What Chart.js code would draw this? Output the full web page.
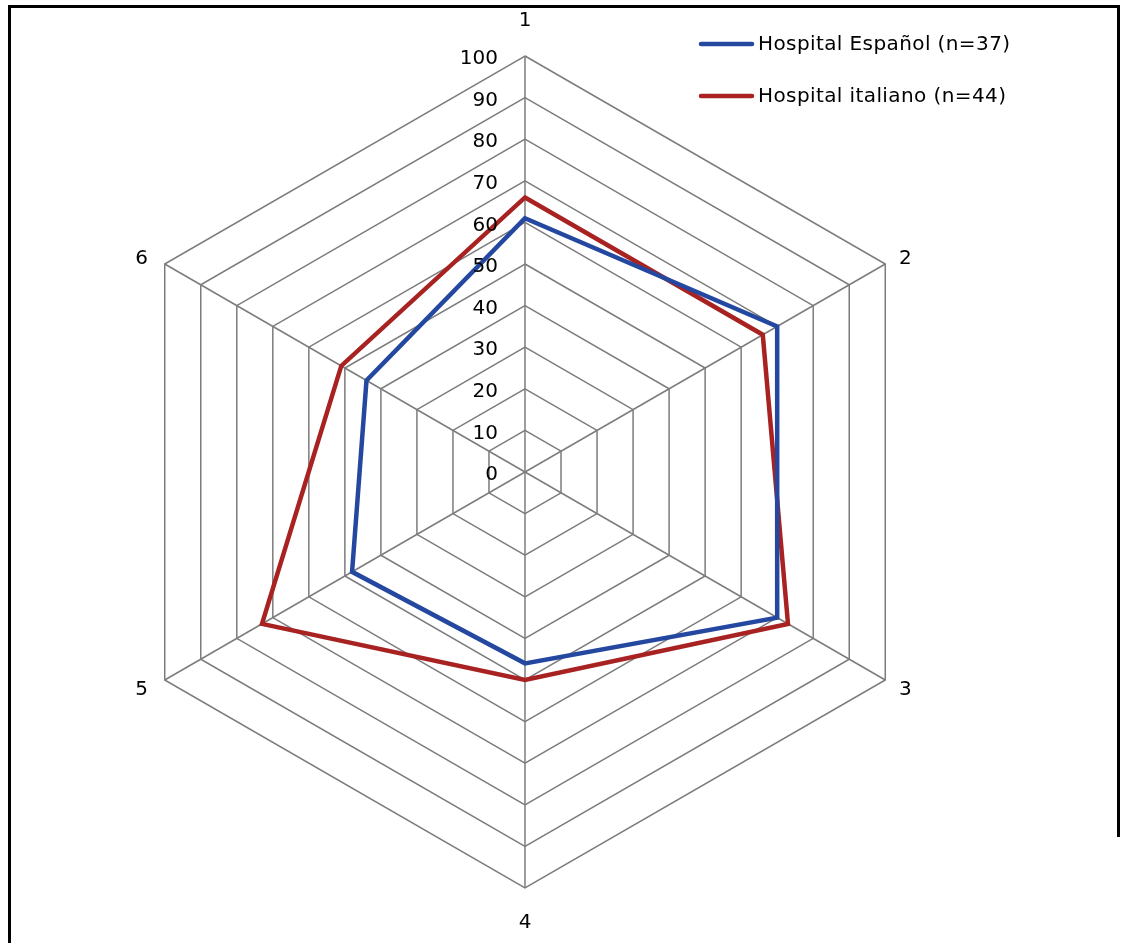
<!DOCTYPE html>
<html>
<head>
<meta charset="utf-8">
<script src="https://cdn.jsdelivr.net/npm/chart.js@4.4.1/dist/chart.umd.min.js"></script>
<style>
  html, body { margin: 0; padding: 0; background: #fff; }
  #wrap { position: relative; width: 1128px; height: 943px; overflow: hidden; }
  #chart { position: absolute; left: 0; top: 0; }
  .rule { position: absolute; background: #000; }
</style>
</head>
<body>
<div id="wrap">
  <canvas id="chart" width="1128" height="943"></canvas>
  <div class="rule" style="left:8px; top:5px; width:1112px; height:2.5px;"></div>
  <div class="rule" style="left:8px; top:5px; width:2.5px; height:938px;"></div>
  <div class="rule" style="left:1117px; top:5px; width:2.5px; height:832px;"></div>
</div>
<script>
// Axis categories
const categories = ['1', '2', '3', '4', '5', '6'];

// Series values (percent)
const espanolValues = [61, 70, 70, 46, 48, 44];
const italianoValues = [66, 66, 73, 50, 73, 51];

// Series names
const seriesNames = ['Hospital Español (n=37)', 'Hospital italiano (n=44)'];
const seriesColors = ['#2447a0', '#a82222'];

// Radial tick labels
const tickLabels = [0, 10, 20, 30, 40, 50, 60, 70, 80, 90, 100];

const FONT = '"DejaVu Sans", Verdana, sans-serif';

// Draws tick values, axis names and the legend
const overlay = {
  id: 'overlay',
  afterDraw(chart) {
    const r = chart.scales.r;
    const ctx = chart.ctx;
    ctx.save();
    ctx.fillStyle = '#000';
    ctx.font = '20px ' + FONT;

    // value labels along the top axis
    ctx.textAlign = 'right';
    ctx.textBaseline = 'middle';
    tickLabels.forEach(v => {
      const d = r.getDistanceFromCenterForValue(v);
      ctx.fillText(String(v), r.xCenter - 27, r.yCenter - d + 3);
    });

    // axis names outside the outer ring
    ctx.textAlign = 'center';
    categories.forEach((c, i) => {
      const p = r.getPointPosition(i, r.drawingArea);
      const dxr = p.x - r.xCenter;
      const dyr = p.y - r.yCenter;
      let x = p.x, y = p.y;
      if (Math.abs(dxr) < 1) {
        y += dyr < 0 ? -35 : 35;
      } else {
        x += dxr > 0 ? 20 : -23;
        y += dyr < 0 ? -5 : 10;
      }
      ctx.fillText(c, x, y);
    });

    // legend
    const legendY = [45, 97];
    ctx.textAlign = 'left';
    seriesNames.forEach((name, i) => {
      ctx.strokeStyle = seriesColors[i];
      ctx.lineWidth = 4.5;
      ctx.lineCap = 'round';
      ctx.beginPath();
      ctx.moveTo(701, legendY[i] - 1);
      ctx.lineTo(752, legendY[i] - 1);
      ctx.stroke();
      ctx.fillStyle = '#000';
      ctx.font = '20px ' + FONT;
      if ('letterSpacing' in ctx) ctx.letterSpacing = '0.4px';
      ctx.fillText(name, 758, legendY[i]);
    });
    ctx.restore();
  }
};

new Chart(document.getElementById('chart'), {
  type: 'radar',
  data: {
    labels: categories,
    datasets: [
      {
        label: seriesNames[0],
        data: espanolValues,
        borderColor: seriesColors[0],
        borderWidth: 4.5,
        fill: false,
        pointRadius: 0,
        tension: 0
      },
      {
        label: seriesNames[1],
        data: italianoValues,
        borderColor: seriesColors[1],
        borderWidth: 4.5,
        fill: false,
        pointRadius: 0,
        tension: 0
      }
    ]
  },
  options: {
    responsive: false,
    animation: false,
    layout: { padding: { left: 109, right: 187, top: 56, bottom: 55 } },
    plugins: {
      legend: { display: false },
      tooltip: { enabled: false }
    },
    elements: { line: { borderJoinStyle: 'miter' } },
    scales: {
      r: {
        min: 0,
        max: 100,
        ticks: { display: false, stepSize: 10 },
        grid: { color: '#7c7c7c', lineWidth: 1.5 },
        angleLines: { color: '#7c7c7c', lineWidth: 1.5 },
        pointLabels: { display: false }
      }
    }
  },
  plugins: [overlay]
});
</script>
</body>
</html>
